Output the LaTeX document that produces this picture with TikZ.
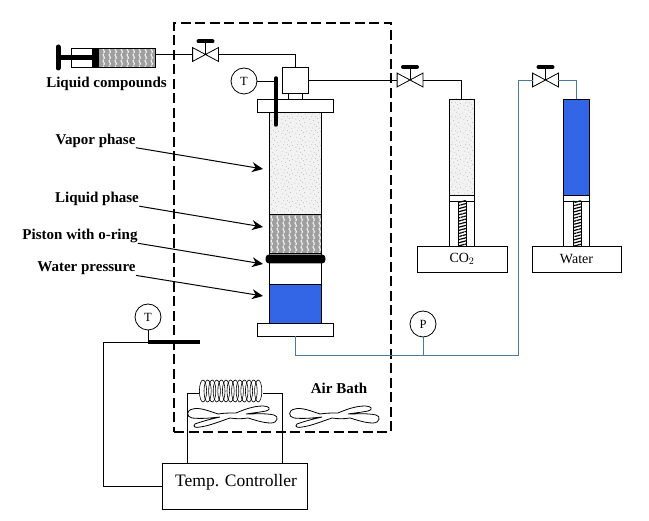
\documentclass[tikz,border=0pt]{standalone}
\usepackage{fontspec}
\setmainfont{Liberation Serif}
\usetikzlibrary{arrows.meta,patterns,patterns.meta}
\definecolor{pipeblue}{HTML}{4A7A9C}
\definecolor{waterblue}{HTML}{3366E6}
% sparse grains for the gas, wavy bands for the liquid
\pgfdeclarepatternformonly{speckle}{\pgfqpoint{0pt}{0pt}}{\pgfqpoint{14pt}{14pt}}{\pgfqpoint{14pt}{14pt}}{
  \foreach \a/\b in {1/2,5/1,9/3,12/1,3/6,7/5,11/7,2/10,6/9,10/11,13/12,4/13,8/13} {
    \pgfpathcircle{\pgfqpoint{\a pt}{\b pt}}{0.4pt}
  }
  \pgfusepath{fill}
}
\pgfdeclarepatternformonly{ripple}{\pgfqpoint{0pt}{0pt}}{\pgfqpoint{6pt}{6pt}}{\pgfqpoint{6pt}{6pt}}{
  \pgfsetlinewidth{1.3pt}
  \pgfpathmoveto{\pgfqpoint{2pt}{0pt}}
  \pgfpathcurveto{\pgfqpoint{5pt}{2pt}}{\pgfqpoint{-1pt}{4pt}}{\pgfqpoint{2pt}{6pt}}
  \pgfusepath{stroke}
}
\begin{document}
\begin{tikzpicture}[x=1pt, y=-1pt, line width=0.8pt]
  \tikzstyle{part}=[rectangle, draw, inner sep=0pt, fill=white]
  \tikzstyle{vapor}=[part, preaction={fill=gray!10}, pattern=speckle, pattern color=gray!80]
  \tikzstyle{liquid}=[part, preaction={fill=gray!75}, pattern=ripple, pattern color=white!85!gray]
  \tikzstyle{screw}=[part, pattern={Lines[angle=15, distance=3pt, line width=1.2pt]}]
  \tikzstyle{water}=[part, fill=waterblue]
  \tikzstyle{solid}=[part, fill=black]
  \tikzstyle{valve}=[rectangle, inner sep=0pt, minimum width=25pt, minimum height=13pt]
  \tikzstyle{gauge}=[circle, draw, minimum width=26pt, inner sep=0pt, font=\fontsize{12.5}{14}\selectfont, fill=white]
  \tikzstyle{label}=[inner sep=0pt, font=\fontsize{15}{17}\selectfont\bfseries]
  \tikzstyle{pointer}=[line width=1pt, -{Stealth[length=11pt, width=10pt]}]
  \tikzstyle{pipe}=[pipeblue]

  \useasboundingbox (0,0) rectangle (649,521);

  % air bath
  \node[rectangle, draw, dashed, dash pattern=on 10pt off 4.5pt, line width=1.2pt, minimum width=217pt, minimum height=409pt] (bath) at (282.5,227.5) {};

  % syringe
  \node[part, minimum width=84pt, minimum height=19pt] (barrel) at (113,57.5) {};
  \node[liquid, minimum width=57pt, minimum height=19pt] (charge) at (126.5,57.5) {};
  \node[solid, minimum width=6pt, minimum height=19pt] (plunger) at (95,57.5) {};
  \draw[line width=5pt] (plunger.west) -- (58,57.5);
  \draw[line width=5pt, line cap=round] (58,47) -- (58,68);
  \node[label] (compounds) at (106.5,83.5) {Liquid compounds};

  % main cell
  \node[vapor, minimum width=52pt, minimum height=102pt] (gas) at (295.5,163) {};
  \node[liquid, minimum width=52pt, minimum height=39pt] (oil) at (295.5,233.5) {};
  \node[part, minimum width=52pt, minimum height=31pt] (gap) at (295.5,268.5) {};
  \node[water, minimum width=52pt, minimum height=39pt] (pressure) at (295.5,303.5) {};
  \node[solid, rounded corners=3pt, minimum width=59pt, minimum height=8pt] (piston) at (295.5,259) {};
  \node[part, minimum width=76pt, minimum height=13pt] (flange) at (295,105.5) {};
  \node[part, minimum width=76pt, minimum height=13pt] (base) at (295,329.5) {};
  \node[part, minimum width=14pt, minimum height=6pt] (neck) at (295,96) {};
  \node[part, minimum width=26pt, minimum height=26pt] (head) at (295,80) {};

  % CO2 and water pumps
  \node[vapor, minimum width=25pt, minimum height=96pt] (co2gas) at (461.5,147) {};
  \node[part, minimum width=25pt, minimum height=51pt] (co2body) at (461.5,220.5) {};
  \draw (co2gas.south west) ++(0,6) -- ++(25,0);
  \node[screw, minimum width=8pt, minimum height=45pt] (co2screw) at (462,223.5) {};
  \node[part, minimum width=90pt, minimum height=26pt, font=\fontsize{14}{16}\selectfont] (co2box) at (462,259) {\raisebox{-1.5pt}{CO$_2$}};
  \node[water, minimum width=26pt, minimum height=96pt] (watergas) at (576,147) {};
  \node[part, minimum width=26pt, minimum height=51pt] (waterbody) at (576,220.5) {};
  \draw (watergas.south west) ++(0,6) -- ++(26,0);
  \node[screw, minimum width=8pt, minimum height=45pt] (waterscrew) at (577,223.5) {};
  \node[part, minimum width=89pt, minimum height=26pt, font=\fontsize{14}{16}\selectfont] (waterbox) at (576.5,259) {\raisebox{-1.5pt}{Water}};

  % valves
  \node[valve] (v1) at (205.5,54.5) {};
  \node[valve] (v2) at (410,80) {};
  \node[valve] (v3) at (545.5,80) {};
  \foreach \v in {v1,v2,v3} {
    \draw (\v.north west) -- (\v.south east) -- (\v.north east) -- (\v.south west) -- cycle;
    \coordinate (\v top) at ([yshift=13pt]\v.center);
    \draw (\v.center) -- (\v top);
    \draw[line width=4pt, line cap=round] ([xshift=-7pt]\v top) -- ([xshift=7pt]\v top);
  }

  % black pipes
  \draw (charge.east |- v1) -- (v1.west);
  \draw (v1.east) -| (head.north);
  \draw (head.east) -- (v2.west);
  \draw (v2.east) -| (co2gas.north);

  % blue pipes
  \coordinate (elbow) at (295,355);
  \coordinate (riser) at (518,355);
  \node[gauge] (P) at (423,324) {P};
  \draw[pipe] (base.south) -- (elbow) -- (riser) |- (v3.west);
  \draw[pipe] (v3.east) -| (watergas.north);
  \draw[pipe] (P.south) -- (P.south |- riser);

  % thermocouple on the cell
  \node[gauge] (T1) at (244,81) {T};
  \coordinate (probe) at (276,81);
  \draw (T1.east) -- (probe);
  \draw[line width=3.5pt, line cap=round] (276,78) -- (276,125);

  % labels and arrows
  \node[label] (vaporlabel) at (95.5,140.5) {Vapor phase};
  \node[label] (liquidlabel) at (97,199) {Liquid phase};
  \node[label] (pistonlabel) at (80,236) {Piston with o-ring};
  \node[label] (waterlabel) at (86.5,268.5) {Water pressure};
  \coordinate (vaporend) at (263,169);
  \coordinate (liquidend) at (263,227);
  \coordinate (pistonend) at (263,264);
  \coordinate (waterend) at (263,296);
  \draw[pointer] (vaporlabel.south east) -- (vaporend);
  \draw[pointer] (liquidlabel.south east) -- (liquidend);
  \draw[pointer] (pistonlabel.south east) -- (pistonend);
  \draw[pointer] (waterlabel.south east) -- (waterend);

  % temperature control loop
  \node[part, minimum width=145pt, minimum height=46pt] (controller) at (234.5,486) {};
  \node[inner sep=0pt, font=\fontsize{17.5}{20}\selectfont] (controllerlabel) at (236,482) {Temp. Controller};
  \node[gauge] (T2) at (148,317) {T};
  \coordinate (probeleft) at (148,342);
  \coordinate (corner) at (103,342);
  \draw (T2.south) -- (probeleft) -- (corner) |- (controller.west);
  \draw[line width=3.5pt] (probeleft) -- (200,342);

  % heating coil
  \node[inner sep=0pt, minimum width=64pt, minimum height=22pt] (coil) at (231,391) {};
  \foreach \x in {203,207.6,...,260} {
    \draw[line width=0.6pt] (\x,391) ellipse (3.6 and 11);
  }
  \coordinate (coilleft) at (187,393);
  \coordinate (coilright) at (282,393);
  \draw (controller.north -| coilleft) -- (coilleft) -- (coil.west |- coilleft);
  \draw (controller.north -| coilright) -- (coilright) -- (coil.east |- coilright);

  % fans
  \foreach \cx in {233,335} {
    \draw[shift={(\cx,416)}] (-15,-2) .. controls (-24,-5) and (-34,-9) .. (-40,-7)
      .. controls (-47,-6) and (-47,1) .. (-41,2) .. controls (-32,3) and (-22,2) .. (-13,1)
      .. controls (-22,3) and (-33,6) .. (-38,8) .. controls (-41,11) and (-37,12) .. (-33,11)
      .. controls (-24,10) and (-12,5) .. (-3,2)
      .. controls (3,3) and (9,3) .. (15,2)
      .. controls (22,4) and (30,7) .. (38,7) .. controls (45,7) and (46,0) .. (41,-1)
      .. controls (32,-3) and (22,-2) .. (13,-2)
      .. controls (20,-3) and (28,-4) .. (33,-5) .. controls (39,-7) and (36,-10) .. (30,-10)
      .. controls (20,-10) and (10,-6) .. (3,-3)
      .. controls (-3,-3) and (-9,-3) .. (-15,-2) -- cycle;
  }
  \node[label] (bathlabel) at (339,388) {Air Bath};
\end{tikzpicture}
\end{document}
